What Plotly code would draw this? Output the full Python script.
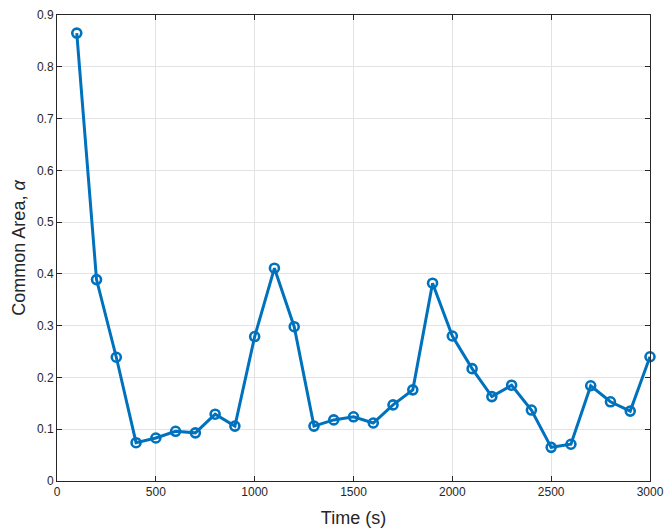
import plotly.graph_objects as go

time_s = [100, 200, 300, 400, 500, 600, 700, 800, 900, 1000,
          1100, 1200, 1300, 1400, 1500, 1600, 1700, 1800, 1900, 2000,
          2100, 2200, 2300, 2400, 2500, 2600, 2700, 2800, 2900, 3000]
common_area = [0.865, 0.389, 0.239, 0.074, 0.083, 0.096, 0.093, 0.129, 0.106, 0.279,
               0.411, 0.298, 0.106, 0.118, 0.124, 0.112, 0.147, 0.176, 0.382, 0.280,
               0.217, 0.163, 0.185, 0.137, 0.065, 0.071, 0.184, 0.153, 0.135, 0.240]

x_ticks = [0, 500, 1000, 1500, 2000, 2500, 3000]
y_ticks = [0, 0.1, 0.2, 0.3, 0.4, 0.5, 0.6, 0.7, 0.8, 0.9]

fig = go.Figure()
fig.add_trace(go.Scatter(
    x=time_s, y=common_area, mode="lines+markers",
    line=dict(color="#0072BD", width=3),
    marker=dict(symbol="circle-open", size=9, color="#0072BD", line=dict(width=2.6)),
    showlegend=False, cliponaxis=False,
))

axis_common = dict(
    showline=True, linecolor="#262626", linewidth=1, mirror="ticks",
    ticks="inside", ticklen=5, tickcolor="#262626",
    showgrid=True, gridcolor="#e3e3e3", gridwidth=1, zeroline=False,
    automargin=False,
    tickfont=dict(family="Liberation Sans, Arial, sans-serif", size=12, color="#262626"),
)

fig.update_layout(
    width=665, height=531,
    margin=dict(l=57, r=15, t=15, b=50),
    paper_bgcolor="white", plot_bgcolor="white",
    font=dict(family="Liberation Sans, Arial, sans-serif", color="#262626"),
    xaxis=dict(range=[0, 3000], tickvals=x_ticks, ticktext=[str(v) for v in x_ticks],
               title=dict(text="Time (s)", font=dict(size=18, color="#262626"), standoff=12),
               **axis_common),
    yaxis=dict(range=[0, 0.9], tickvals=y_ticks, ticktext=["0"] + [f"{v:.1f}" for v in y_ticks[1:]],
               title=dict(text="Common Area, <i>α</i>", font=dict(size=18, color="#262626"), standoff=6),
               **axis_common),
)

fig.write_html("out.html")
